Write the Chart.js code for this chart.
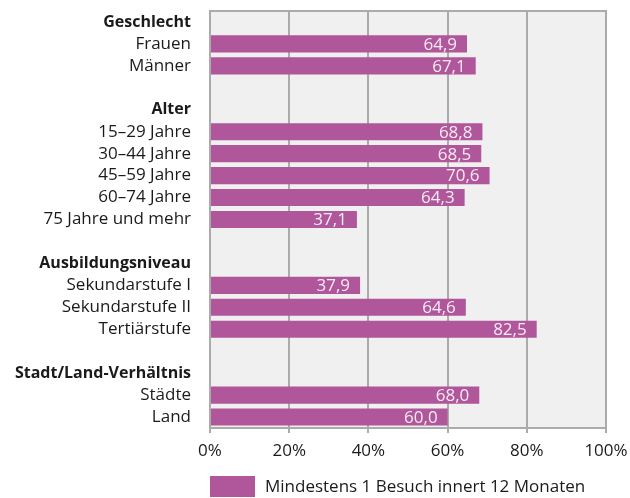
<!DOCTYPE html>
<html>
<head>
<meta charset="utf-8">
<script src="https://cdn.jsdelivr.net/npm/chart.js@4"></script>
<style>
  html, body { margin: 0; padding: 0; background: #fff; }
  #wrap { width: 630px; height: 498px; }
</style>
</head>
<body>
<div id="wrap"><canvas id="chart" width="630" height="498"></canvas></div>
<script>
// Categories (group headers and blank spacer rows included)
const categories = [
    'Geschlecht', 'Frauen', 'Männer', '',
    'Alter', '15–29 Jahre', '30–44 Jahre', '45–59 Jahre', '60–74 Jahre', '75 Jahre und mehr', ' ',
    'Ausbildungsniveau', 'Sekundarstufe I', 'Sekundarstufe II', 'Tertiärstufe', '  ',
    'Stadt/Land-Verhältnis', 'Städte', 'Land'
];
const groupHeaders = ['Geschlecht', 'Alter', 'Ausbildungsniveau', 'Stadt/Land-Verhältnis'];

const visits = [
    null, 64.9, 67.1, null,
    null, 68.8, 68.5, 70.6, 64.3, 37.1, null,
    null, 37.9, 64.6, 82.5, null,
    null, 68.0, 60.0
];

const xTicks = [0, 20, 40, 60, 80, 100];
const seriesLabel = 'Mindestens 1 Besuch innert 12 Monaten';

const FONT = 'Open Sans';
const BAR_COLOR = '#b0569a';
const GRID_COLOR = '#ababab';

// Plot background, border, value labels and legend
const decorPlugin = {
    id: 'decor',
    beforeDraw(chart) {
        const { ctx, chartArea: a } = chart;
        ctx.save();
        ctx.fillStyle = '#f0f0f0';
        ctx.fillRect(a.left, a.top, a.right - a.left, a.bottom - a.top);
        ctx.restore();
    },
    beforeDatasetsDraw(chart) {
        const { ctx, chartArea: a } = chart;
        ctx.save();
        ctx.strokeStyle = GRID_COLOR;
        ctx.lineWidth = 2;
        ctx.strokeRect(a.left, a.top, a.right - a.left, a.bottom - a.top);
        ctx.restore();
    },
    afterDatasetsDraw(chart) {
        const { ctx } = chart;
        const meta = chart.getDatasetMeta(0);
        ctx.save();
        ctx.font = '17px "' + FONT + '"';
        ctx.fillStyle = '#f7ecf4';
        ctx.textAlign = 'right';
        ctx.textBaseline = 'middle';
        meta.data.forEach((bar, i) => {
            const v = visits[i];
            if (v === null) return;
            ctx.fillText(v.toFixed(1).replace('.', ','), bar.x - 10, bar.y + 1);
        });
        ctx.restore();
    },
    afterDraw(chart) {
        const { ctx, chartArea: a } = chart;
        const y = 476;
        ctx.save();
        ctx.fillStyle = BAR_COLOR;
        ctx.fillRect(a.left, y, 45, 21);
        ctx.fillStyle = '#1a1a1a';
        ctx.font = '17px "' + FONT + '"';
        ctx.textAlign = 'left';
        ctx.textBaseline = 'middle';
        ctx.fillText(seriesLabel, a.left + 55, y + 11);
        ctx.restore();
    }
};

new Chart(document.getElementById('chart'), {
    type: 'bar',
    data: {
        labels: categories,
        datasets: [{
            label: seriesLabel,
            data: visits,
            backgroundColor: BAR_COLOR,
            borderWidth: 0,
            barPercentage: 0.78,
            categoryPercentage: 1.0
        }]
    },
    options: {
        indexAxis: 'y',
        responsive: false,
        animation: false,
        layout: { padding: { top: 11, right: 24, bottom: 30, left: 0 } },
        plugins: {
            legend: { display: false },
            tooltip: { enabled: false }
        },
        scales: {
            x: {
                min: 0,
                max: 100,
                afterBuildTicks: scale => {
                    scale.ticks = xTicks.map(v => ({ value: v }));
                },
                afterFit: scale => {
                    scale.height = 40;
                    scale.paddingLeft = 0;
                    scale.paddingRight = 0;
                },
                grid: { color: GRID_COLOR, lineWidth: 2, tickLength: 5 },
                border: { color: GRID_COLOR, width: 2 },
                ticks: {
                    padding: 8,
                    color: '#1a1a1a',
                    font: { family: FONT, size: 17 },
                    callback: v => v + '%'
                }
            },
            y: {
                afterFit: scale => {
                    scale.width = 210;
                    scale.paddingTop = 0;
                    scale.paddingBottom = 0;
                },
                grid: { display: false, drawTicks: false },
                border: { display: false },
                ticks: {
                    padding: 19,
                    color: '#1a1a1a',
                    autoSkip: false,
                    font: ctx => {
                        const isHeader = groupHeaders.includes(categories[ctx.index]);
                        return { family: FONT, size: isHeader ? 16 : 17, weight: isHeader ? 'bold' : 'normal' };
                    }
                }
            }
        }
    },
    plugins: [decorPlugin]
});
</script>
</body>
</html>
